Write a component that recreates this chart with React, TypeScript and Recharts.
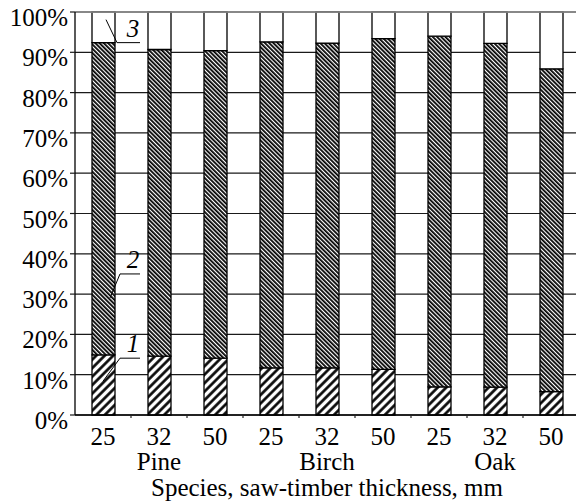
import React, { createContext, useContext, useState } from 'react';
import { createPortal } from 'react-dom';
import { BarChart, Bar, XAxis, YAxis, CartesianGrid, ReferenceLine, ReferenceDot } from 'recharts';

const species = ['Pine', 'Birch', 'Oak'];
const thickness = ['25', '32', '50'];
// series 1 (bottom), 2 (middle), 3 (top remainder), percent
const series1 = [14.9, 14.6, 14.1, 11.7, 11.7, 11.3, 7.0, 6.9, 5.8];
const series2 = [77.5, 76.1, 76.3, 80.9, 80.6, 82.1, 87.0, 85.3, 80.1];
const series3 = [7.6, 9.3, 9.6, 7.4, 7.7, 6.6, 6.0, 7.8, 14.1];
const yTicks = [0, 10, 20, 30, 40, 50, 60, 70, 80, 90, 100];
const axisTitle = 'Species, saw-timber thickness, mm';

const categories: string[] = [];
species.forEach((s) => thickness.forEach((t) => categories.push(`${s}-${t}`)));
const data = categories.map((c, i) => ({ cat: c, s1: series1[i], s2: series2[i], s3: series3[i] }));

const FONT = 'Liberation Serif';
const CHART_W = 579;
const CHART_H = 504;
const Y_W = 75;
const BAND = (CHART_W - Y_W) / categories.length;

const OverlayCtx = createContext<SVGSVGElement | null>(null);

const SText = (props: any) => {
  const overlay = useContext(OverlayCtx);
  const { italic, children, ...rest } = props;
  const el = (
    <text fontFamily={FONT} fontSize={25} fontStyle={italic ? 'italic' : 'normal'} fill="#000" {...rest}>
      {children}
    </text>
  );
  if (!overlay) return null;
  return createPortal(el, overlay);
};

const XTick = (props: any) => {
  const { x, y, payload } = props;
  const i = categories.indexOf(payload.value);
  const t = thickness[i % 3];
  const sp = species[Math.floor(i / 3)];
  return (
    <g>
      <SText x={x} y={y + 30} textAnchor="middle">{t}</SText>
      {i % 3 === 1 && (
        <SText x={x} y={y + 55} textAnchor="middle">{sp}</SText>
      )}
      {i < categories.length - 1 && (
        <line x1={x + BAND / 2} x2={x + BAND / 2} y1={y} y2={y + 3} stroke="#222" strokeWidth={1.2} />
      )}
    </g>
  );
};

const YTick = (props: any) => {
  const { x, y, payload } = props;
  return <g><SText x={x} y={y + 14} textAnchor="end">{`${payload.value}%`}</SText></g>;
};

const Title = (props: any) => {
  const vb = props.viewBox || {};
  return <g><SText x={vb.x + vb.width / 2} y={vb.y + 81} textAnchor="middle">{axisTitle}</SText></g>;
};

const makeAnno = (label: string, lineStart: number, endDx: number, endDy: number) => (props: any) => {
  const { cx, cy } = props;
  return (
    <g>
      <line x1={cx + lineStart} y1={cy} x2={cx + 37} y2={cy} stroke="#000" strokeWidth={1} />
      <line x1={cx + lineStart} y1={cy} x2={cx + endDx} y2={cy + endDy} stroke="#000" strokeWidth={1} />
      <SText x={cx + 30} y={cy - 6} textAnchor="middle" italic>{label}</SText>
    </g>
  );
};

export default function App() {
  const [overlay, setOverlay] = useState<SVGSVGElement | null>(null);
  return (
    <div style={{ position: 'absolute', left: 0, top: 0, width: 576, height: 504, overflow: 'hidden', background: '#fff' }}>
      <OverlayCtx.Provider value={overlay}>
        <BarChart width={CHART_W} height={CHART_H} data={data} margin={{ top: 12, right: 0, left: 0, bottom: 0 }} barSize={23}>
          <defs>
            <pattern id="hatchWide" patternUnits="userSpaceOnUse" width="6" height="6" patternTransform="rotate(45)">
              <rect width="6" height="6" fill="#fff" />
              <line x1="1.5" y1="0" x2="1.5" y2="6" stroke="#000" strokeWidth="2.6" />
            </pattern>
            <pattern id="hatchDense" patternUnits="userSpaceOnUse" width="3" height="3" patternTransform="rotate(-45)">
              <rect width="3" height="3" fill="#fff" />
              <line x1="0.9" y1="0" x2="0.9" y2="3" stroke="#000" strokeWidth="1.8" />
            </pattern>
          </defs>
          <CartesianGrid vertical={false} stroke="#1a1a1a" strokeWidth={1.2} />
          <XAxis
            dataKey="cat"
            height={89}
            interval={0}
            tickLine={false}
            tickSize={0}
            tickMargin={0}
            axisLine={{ stroke: '#000', strokeWidth: 1.3 }}
            tick={<XTick />}
            label={<Title />}
          />
          <YAxis
            width={Y_W}
            domain={[0, 100]}
            ticks={yTicks}
            interval={0}
            tickSize={5}
            tickMargin={2}
            axisLine={{ stroke: '#000', strokeWidth: 1.3 }}
            tickLine={{ stroke: '#1a1a1a', strokeWidth: 1.2 }}
            tick={<YTick />}
          />
          <Bar dataKey="s1" stackId="a" fill="url(#hatchWide)" stroke="#000" strokeWidth={1.3} isAnimationActive={false} />
          <Bar dataKey="s2" stackId="a" fill="url(#hatchDense)" stroke="#000" strokeWidth={1.3} isAnimationActive={false} />
          <Bar dataKey="s3" stackId="a" fill="#fff" stroke="#000" strokeWidth={1.3} isAnimationActive={false} />
          <ReferenceLine y={100} stroke="#9a9a9a" strokeWidth={1.6} />
          <ReferenceDot x={categories[0]} y={14.1} r={0} shape={makeAnno('1', 17, 0, 23)} />
          <ReferenceDot x={categories[0]} y={35} r={0} shape={makeAnno('2', 17, 7, 24)} />
          <ReferenceDot x={categories[0]} y={92.4} r={0} shape={makeAnno('3', 14, 3, -23)} />
        </BarChart>
      </OverlayCtx.Provider>
      <svg
        ref={setOverlay}
        width={CHART_W}
        height={CHART_H}
        style={{ position: 'absolute', left: 0, top: 0, pointerEvents: 'none' }}
      />
    </div>
  );
}
